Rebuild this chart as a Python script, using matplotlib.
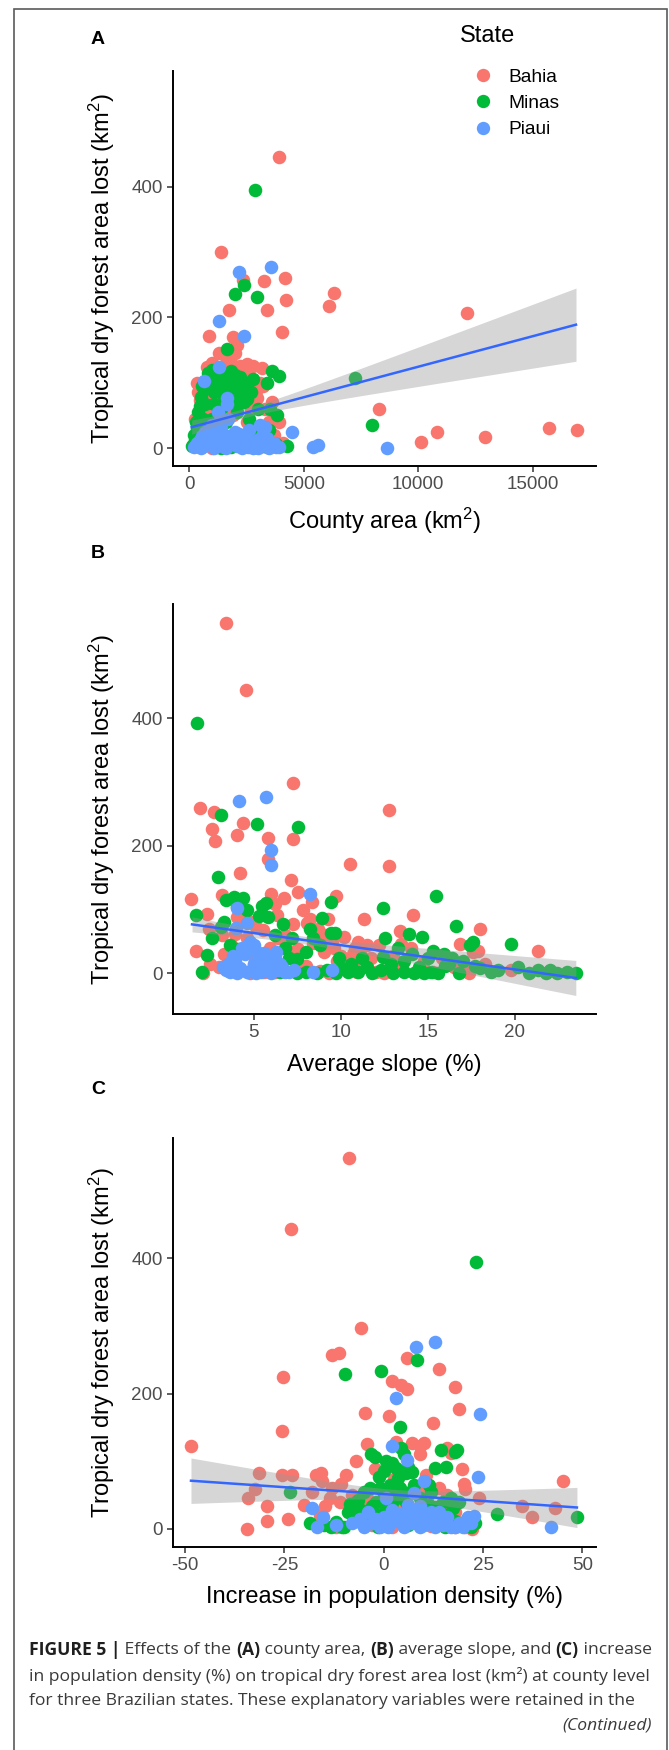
import numpy as np
import matplotlib
matplotlib.use("Agg")
import matplotlib.pyplot as plt
from matplotlib.patches import Rectangle
from matplotlib.lines import Line2D

W, H = 669, 1750

plt.rcParams['font.family'] = ['Liberation Sans', 'DejaVu Sans']
plt.rcParams['mathtext.fontset'] = 'custom'
plt.rcParams['mathtext.rm'] = 'Liberation Sans'
plt.rcParams['mathtext.it'] = 'Liberation Sans:italic'
plt.rcParams['mathtext.bf'] = 'Liberation Sans:bold'
plt.rcParams['axes.unicode_minus'] = False

states = ["Bahia", "Minas", "Piaui"]
state_colors = ["#F8766D", "#00BA38", "#619CFF"]

# ---- Panel A: county area (km2) vs forest lost (km2)
bahia_a_x = [3930, 1384, 4180, 3262, 2360, 4223, 1720, 3406, 6305, 6115, 847, 1922, 4035, 2096,
             1297, 760, 2533, 3175, 393, 2943, 2943, 12135, 8270, 10133, 10804, 12914, 15694,
             16917, 3668, 250, 480, 600, 900, 1100, 1500, 1800, 2200, 2600, 2800, 3100, 3300,
             3500, 3700, 2000, 1600, 1200, 700, 400, 1000, 1800, 2500, 2700, 3000, 3400, 2300,
             1400, 600, 900, 2100, 350, 550, 1000, 1300, 1600, 2000, 2400, 2800, 3200, 3600,
             3900, 4100, 2700, 1900, 1100, 800]
bahia_a_y = [446, 300, 260, 255, 257, 226, 212, 211, 238, 218, 172, 170, 178, 158,
             146, 124, 128, 123, 85, 91, 76, 207, 60, 9, 24, 17, 30,
             27, 10, 45, 73, 100, 110, 95, 120, 130, 125, 110, 95, 100, 60,
             40, 20, 85, 60, 30, 15, 5, 0, 5, 40, 60, 20, 2, 15,
             70, 50, 35, 65, 100, 85, 130, 110, 140, 145, 110, 125, 95, 70,
             40, 8, 3, 50, 55, 75]
minas_a_x = [2856, 2390, 2010, 2970, 1660, 1005, 3598, 3930, 3524, 3817, 7236, 7978, 105, 4280,
             1500, 1800, 2000, 2200, 2500, 2700, 1200, 900, 700, 500, 400, 350, 600, 1100, 1700,
             2300, 1900, 800, 250, 150, 1300, 1600, 2100, 2700, 3000, 3500, 3800, 2400, 1800,
             500, 1000, 1400, 3200, 700, 1300, 2100, 2800, 1500, 2400, 1000, 600, 2600, 3300,
             300, 450, 550, 800, 1100, 1400, 1600, 1900, 2200, 2500, 3000, 3400, 200, 2900]
minas_a_y = [395, 250, 235, 231, 151, 119, 118, 111, 60, 50, 107, 35, 3, 3,
             105, 118, 112, 108, 100, 85, 95, 102, 90, 78, 55, 30, 45, 68, 88,
             92, 72, 28, 12, 5, 22, 40, 55, 22, 10, 28, 6, 4, 2,
             2, 6, 0, 3, 68, 112, 98, 105, 80, 70, 45, 20, 45, 15,
             40, 65, 95, 115, 85, 60, 100, 95, 80, 75, 60, 100, 20, 30]
piaui_a_x = [2170, 3555, 1310, 2402, 1310, 642, 1633, 1633, 1267, 4498, 5416, 5634, 8620,
             300, 450, 600, 750, 900, 1050, 1200, 1350, 1500, 1650, 1800, 1950, 2100, 2250,
             2400, 2550, 2700, 3100, 3300, 3400, 3600, 3800, 1000, 1400, 2000, 700, 3200, 1600,
             2800, 3900, 500, 1100, 2300, 3000, 3500, 200, 350, 550, 800, 950, 1150, 1250, 1450,
             1550, 1700, 1850, 2050, 2150, 2350, 2450, 2600, 2900, 3050, 3250, 3450, 3700, 1300,
             1700, 2600, 3100]
piaui_a_y = [270, 277, 195, 172, 124, 102, 76, 68, 55, 24, 2, 4, 0,
             5, 12, 3, 16, 8, 22, 5, 12, 2, 18, 6, 10, 3, 15,
             8, 2, 10, 5, 32, 15, 3, 1, 35, 30, 25, 25, 22, 0,
             0, 2, 0, 0, 0, 0, 0, 2, 8, 18, 4, 14, 9, 25, 16,
             7, 12, 20, 14, 22, 5, 18, 12, 6, 14, 10, 6, 8, 40,
             45, 28, 35]

# ---- Panel B: average slope (%)
bahia_b_x = [3.40, 4.57, 1.88, 2.71, 2.59, 2.74, 4.38, 4.03, 5.80, 5.80, 7.27, 7.27, 4.18, 7.15,
             7.56, 10.5, 12.76, 12.76, 1.38, 3.15, 9.72, 8.35, 6.22, 2.29, 11.34, 14.14, 13.4,
             18.0, 16.83, 21.35, 19.78, 9.28, 8.06, 7.22, 1.68, 3.15, 2.44, 13.45, 2.05, 5.11,
             4.0, 6.36, 11.0, 10.0, 9.0, 17.6, 17.35, 14.68, 7.56, 5.11, 3.0, 3.5, 4.2, 5.0, 5.6,
             6.5, 7.3, 8.0, 8.8, 9.8, 10.5, 11.2, 12.0, 12.8, 13.5, 14.3, 15.3, 16.0, 17.2, 17.9,
             10.8, 11.5, 9.5, 6.8, 8.4, 3.7, 4.6, 5.9, 7.0, 2.5, 3.3, 3.9, 4.4, 4.9, 5.5, 6.0,
             6.3, 6.7, 7.8, 8.2, 8.7, 9.1, 9.6, 10.2, 10.7, 11.1, 11.7, 12.2, 13.0, 14.0, 14.8,
             15.8, 16.5, 18.3, 7.6, 6.2, 4.8, 9.3, 10.9, 12.5]
bahia_b_y = [550, 444, 260, 253, 226, 208, 236, 217, 213, 179, 299, 211, 158, 146,
             128, 172, 256, 168, 117, 123, 122, 112, 109, 94, 85, 92, 67,
             70, 46, 35, 6, 86, 79, 78, 36, 61, 70, 46, 0, 73,
             89, 56, 50, 28, 33, 33, 0, 11, 39, 22, 10, 20, 5, 15, 3,
             8, 25, 12, 4, 20, 8, 15, 3, 5, 10, 3, 2, 20, 4, 35,
             40, 45, 50, 60, 48, 45, 55, 40, 35, 15, 30, 62, 95, 80, 68, 125,
             92, 118, 100, 85, 70, 60, 40, 58, 30, 35, 25, 45, 28, 40, 20,
             25, 10, 15, 10, 2, 0, 0, 2, 0]
minas_b_x = [1.73, 3.10, 5.16, 7.52, 2.91, 3.40, 3.84, 4.38, 5.48, 5.69, 5.80, 9.43, 8.91, 6.66,
             9.43, 9.67, 12.40, 12.54, 13.89, 14.68, 15.48, 16.59, 17.6, 17.4, 19.75, 1.68, 2.29,
             2.0, 3.6, 4.1, 3.1, 11.2, 15.3, 15.9, 17.7, 8.4, 8.0, 7.5, 7.0, 12.4, 13.6, 16.0,
             9.7, 10.4, 11.8, 12.3, 13.0, 13.6, 14.2, 14.8, 15.2, 15.6, 16.8, 18.6, 20.8, 21.3,
             21.8, 22.4, 23.0, 23.5, 7.5, 8.0, 8.6, 9.2, 6.5, 18.0, 16.2, 2.6, 3.3, 4.0, 4.6,
             5.3, 6.2, 6.8, 7.2, 8.2, 8.8, 9.9, 10.6, 11.5, 12.9, 13.3, 14.1, 14.5, 15.0, 16.4,
             17.0, 19.0, 20.2, 22.0, 10.0, 11.0]
minas_b_y = [393, 249, 234, 230, 151, 115, 120, 118, 106, 110, 89, 112, 87, 78,
             64, 63, 102, 55, 62, 57, 122, 74, 49, 45, 46, 92, 29,
             3, 45, 38, 73, 25, 36, 30, 12, 56, 33, 22, 25, 26, 20, 12,
             0, 2, 0, 5, 0, 3, 0, 0, 2, 0, 0, 3, 0, 5,
             0, 0, 2, 0, 0, 3, 0, 5, 2, 8, 15, 55, 80, 105, 100,
             90, 60, 40, 55, 70, 45, 25, 15, 10, 15, 40, 30, 10, 25, 25,
             20, 5, 10, 5, 8, 3]
piaui_b_x = [4.13, 5.68, 6.0, 6.0, 8.23, 4.03, 4.62, 3.99, 4.8, 5.0, 5.2, 6.25, 8.42, 9.48,
             3.2, 3.6, 3.9, 4.2, 4.6, 5.0, 5.4, 5.7, 6.0, 6.4, 6.8, 3.8, 4.5, 5.3, 5.6, 6.5,
             4.9, 7.0, 3.5, 4.3, 5.8, 6.2, 6.6, 7.3, 4.0, 5.1, 6.0, 3.4]
piaui_b_y = [270, 277, 194, 170, 124, 103, 79, 72, 50, 44, 33, 33, 3, 5,
             10, 2, 20, 8, 2, 15, 3, 10, 20, 5, 2, 28, 30, 25, 32, 15,
             6, 3, 15, 40, 12, 28, 10, 5, 0, 0, 0, 5]

# ---- Panel C: increase in population density (%)
bahia_c_x = [-8.64, -23.4, -5.6, -12.9, -11.3, -25.3, 5.9, 14.0, 2.14, 4.3, 5.9, 17.9, 18.9,
             -4.65, 1.4, 12.5, -25.6, -48.6, -4.1, 3.0, 7.0, 9.0, -31.3, -25.5, -23.0, -32.4,
             -34.2, -29.3, -29.3, -24.0, -34.5, -15.9, -15.6, -9.4, -10.7, -13.5, -14.8, 19.7,
             20.3, 20.5, 23.9, 34.7, 37.2, 43.1, 45.0, 22.2, 16.0, 17.0, 9.1, 10.2, -2.2, 2.7,
             10.7, -4.3, -1.5, 10.7, 15.1, -7.6, -6.0, -3.0, 2.0, 6.0, 12.0, 18.0, 20.5, -12.0,
             -20.0, -18.0, -17.0, -13.0, -11.0, -8.0, -6.0, -3.0, 0.0, 3.0, 5.0, 8.0, 11.0,
             14.0, 16.0, 18.0, 21.0, -16.0, -7.0]
bahia_c_y = [549, 443, 297, 257, 260, 225, 253, 236, 218, 213, 207, 210, 177,
             171, 167, 157, 145, 123, 125, 129, 127, 122, 83, 79, 79, 59,
             45, 34, 11, 15, 0, 83, 71, 79, 66, 46, 34, 88,
             66, 59, 46, 33, 17, 30, 71, 0, 120, 112, 110, 127, 88, 73,
             79, 46, 36, 58, 36, 22, 10, 5, 2, 8, 4, 3, 2, 2,
             35, 55, 80, 60, 40, 50, 30, 15, 10, 25, 40, 20, 45,
             60, 50, 25, 10, 20, 100]
minas_c_x = [23.2, -9.7, -0.76, 8.4, 4.1, -3.2, -2.2, 0.53, 2.1, 4.3, 5.0, 3.2, 5.7, 7.0,
             14.5, 17.8, 18.5, 12.9, 15.6, 11.3, -23.7, -1.3, 28.5, 48.7, -18.6, -13.3, -10.0,
             -8.6, -5.7, -3.0, -7.0, -4.5, -1.5, 1.0, 3.5, 6.0, 8.5, 11.0, 13.0, 15.5, 18.0,
             20.0, 22.0, 23.0, -6.5, 0.0, 2.0, 5.5, 8.0, 13.0, 15.0, 17.0, -1.0, 4.0, -10.5,
             -15.0, -12.0, -9.0, -7.0, -5.0, -4.0, -2.0, -1.0, 0.5, 1.5, 2.5, 3.5, 4.5, 6.5,
             7.5, 9.0, 10.0, 11.5, 12.0, 14.0, 16.0, 17.5, 19.0, 21.0, -3.5, 0.0, 6.0]
minas_c_y = [394, 229, 234, 249, 150, 111, 106, 100, 97, 120, 110, 90, 82, 84,
             117, 114, 116, 90, 91, 64, 55, 76, 22, 18, 8, 3, 3,
             36, 27, 34, 15, 8, 3, 8, 15, 5, 10, 15, 8, 3, 12,
             5, 3, 8, 42, 50, 38, 40, 28, 32, 40, 45, 60, 60, 2,
             5, 10, 25, 40, 55, 20, 40, 20, 30, 65, 55, 75, 45, 55,
             65, 45, 25, 35, 55, 25, 20, 30, 40, 15, 60, 85, 92]
piaui_c_x = [8.2, 13.0, 3.2, 24.1, 2.1, 5.9, 23.7, 10.0, 7.5, 0.5, -18.0, -15.4, -16.8, 42.0,
             9.0, 14.0, 21.3, 22.8, -5.0, -3.0, -1.0, 1.0, 3.0, 5.0, 7.0, 9.0, 11.0, 13.0, 15.0,
             17.0, 19.0, 20.0, 4.0, 6.5, 9.5, 12.0, -2.0, 1.5, -12.0, -8.0, -6.0, 0.0, 2.0, 5.0,
             8.0, 10.0, 12.0, 14.0, 16.0, 18.0, 22.0, -4.0, 6.0]
piaui_c_y = [269, 276, 194, 170, 123, 102, 77, 71, 53, 46, 30, 18, 3, 3,
             34, 25, 17, 19, 3, 8, 2, 3, 12, 2, 8, 2, 10, 3, 6,
             2, 8, 3, 22, 25, 20, 15, 14, 20, 5, 8, 15, 18, 28, 15,
             18, 5, 25, 12, 18, 3, 8, 25, 35]

# linear fits: end points, and band (x of narrowest point,
# half width there, half width at the right end)
trend_a_x = [105, 16887]
trend_a_y = [32, 188.8]
band_a = [2300, 7, 56]
trend_b_x = [1.44, 23.5]
trend_b_y = [77, -7]
band_b = [7.5, 6, 27.5]
trend_c_x = [-48.5, 48.6]
trend_c_y = [71, 31.4]
band_c = [3.25, 8, 29.7]

xticks_a = [0, 5000, 10000, 15000]
xticks_b = [5, 10, 15, 20]
xticks_c = [-50, -25, 0, 25, 50]
yticks = [0, 200, 400]

fig = plt.figure(figsize=(W / 100, H / 100), dpi=100)


def px_axes(left, top, right, bottom):
    return fig.add_axes([left / W, 1 - bottom / H, (right - left) / W, (bottom - top) / H])


def draw_panel(ax, data, trend_x, trend_y, band, xlim, ylim, xticks, xlabel, xlab_y):
    for (xs, ys), col in zip(data, state_colors):
        ax.scatter(xs, ys, s=95, color=col, linewidths=0, zorder=2)
    xx = np.linspace(trend_x[0], trend_x[1], 200)
    slope = (trend_y[1] - trend_y[0]) / (trend_x[1] - trend_x[0])
    yy = trend_y[0] + slope * (xx - trend_x[0])
    xc, w0, w1 = band
    k = np.sqrt(w1 ** 2 - w0 ** 2) / abs(trend_x[1] - xc)
    half = np.sqrt(w0 ** 2 + (k * (xx - xc)) ** 2)
    ax.fill_between(xx, yy - half, yy + half, color="#999999", alpha=0.4, linewidth=0, zorder=3)
    ax.plot(xx, yy, color="#3366FF", lw=1.8, zorder=4)
    ax.set_xlim(xlim)
    ax.set_ylim(ylim)
    ax.set_xticks(xticks)
    ax.set_yticks(yticks)
    for s in ["top", "right"]:
        ax.spines[s].set_visible(False)
    for s in ["left", "bottom"]:
        ax.spines[s].set_linewidth(1.4)
    ax.tick_params(length=4.3, width=1.1, color="#333333", labelsize=13.5,
                   labelcolor="#4D4D4D", pad=3)
    ax.set_ylabel("Tropical dry forest area lost (km$^{2}$)", fontsize=17)
    ax.yaxis.label.set_va("baseline")
    ax.yaxis.set_label_coords((110 - 172.7) / (596 - 172.7), 0.5)
    ax.set_xlabel(xlabel, fontsize=17, va="baseline")
    ax.xaxis.set_label_coords(0.5, xlab_y)


ax_a = px_axes(172.7, 70.7, 596, 466)
draw_panel(ax_a, [(bahia_a_x, bahia_a_y), (minas_a_x, minas_a_y), (piaui_a_x, piaui_a_y)],
           trend_a_x, trend_a_y, band_a, (-725, 17760), (-27.5, 577.5), xticks_a,
           "County area (km$^{2}$)", -(529 - 466) / 395.3)

ax_b = px_axes(172.7, 604.3, 596, 1014.3)
draw_panel(ax_b, [(bahia_b_x, bahia_b_y), (minas_b_x, minas_b_y), (piaui_b_x, piaui_b_y)],
           trend_b_x, trend_b_y, band_b, (0.33, 24.66), (-64, 579), xticks_b,
           "Average slope (%)", -(1070.5 - 1014.3) / 410)

ax_c = px_axes(172.7, 1138.3, 596, 1547.3)
draw_panel(ax_c, [(bahia_c_x, bahia_c_y), (minas_c_x, minas_c_y), (piaui_c_x, piaui_c_y)],
           trend_c_x, trend_c_y, band_c, (-53.1, 53.4), (-27.5, 577.5), xticks_c,
           "Increase in population density (%)", -(1603 - 1547.3) / 409)

# panel letters
for lab, ypx in zip(["A", "B", "C"], [39, 554, 1089]):
    fig.text(91 / W, 1 - ypx / H, lab, fontsize=14, fontweight="bold", va="center", ha="left")

# legend: title as its own text, keys through the legend api
fig.text(460 / W, 1 - 35.5 / H, "State", fontsize=17, va="center", ha="left")
handles = [Line2D([], [], ls="", marker="o", ms=9.6, mec="none", mfc=c) for c in state_colors]
leg = fig.legend(handles, states, loc="upper left",
                 bbox_to_anchor=(463.9 / W, 1 - 58.5 / H), frameon=False, fontsize=13.8,
                 borderpad=0, handlelength=1.0, handletextpad=0.8, labelspacing=0.47)

# outer frame of the figure page
fig.add_artist(Rectangle((14 / W, -0.01), (666.7 - 14) / W, 1.01 - 9 / H,
                         transform=fig.transFigure, fill=False, ec="#5a5a5a", lw=1.2))

# caption
cap_font = ["Open Sans", "DejaVu Sans"]
cap_size = 12.6
renderer = fig.canvas.get_renderer()


def caption_line(segments, y_px, x_px=29):
    x = x_px
    for txt, bold in segments:
        t = fig.text(x / W, 1 - y_px / H, txt, fontsize=cap_size, family=cap_font,
                     fontweight="bold" if bold else "normal",
                     color="#1f1f1f" if bold else "#3a3a3a", va="center", ha="left")
        x += t.get_window_extent(renderer).width


caption_line([("FIGURE 5 |", True), (" Effects of the ", False), ("(A)", True),
              (" county area, ", False), ("(B)", True), (" average slope, and ", False),
              ("(C)", True), (" increase", False)], 1650)
caption_line([("in population density (%) on tropical dry forest area lost (km²) at county level", False)], 1675.7)
caption_line([("for three Brazilian states. These explanatory variables were retained in the", False)], 1700.7)
fig.text(652 / W, 1 - 1725 / H, "(Continued)", fontsize=cap_size, family=cap_font, style="italic",
         color="#3a3a3a", va="center", ha="right")

fig.savefig("out.png", dpi=100)
